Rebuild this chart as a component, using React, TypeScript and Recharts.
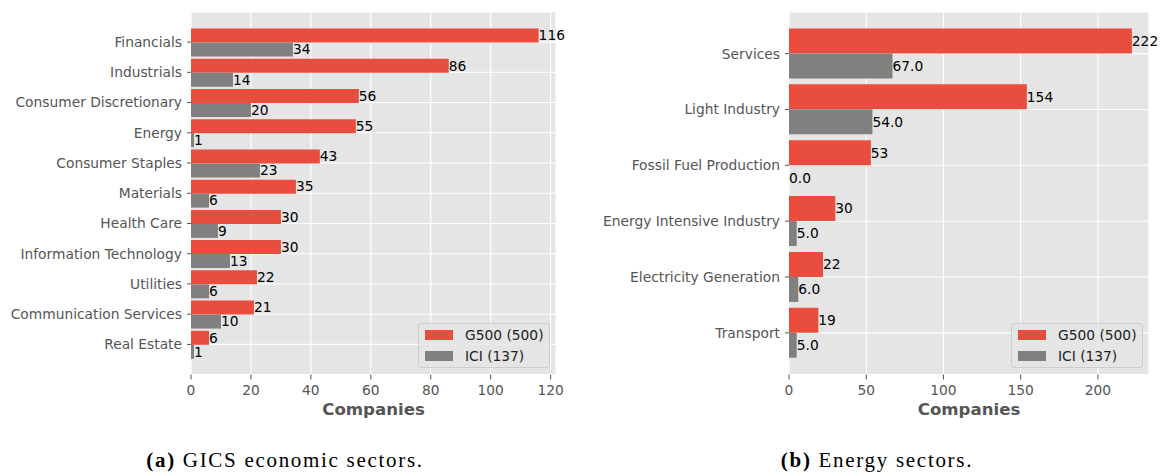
import React from 'react';
import { BarChart, Bar, XAxis, YAxis, CartesianGrid, LabelList } from 'recharts';

// GICS economic sectors
const gicsSectors = [
  'Financials',
  'Industrials',
  'Consumer Discretionary',
  'Energy',
  'Consumer Staples',
  'Materials',
  'Health Care',
  'Information Technology',
  'Utilities',
  'Communication Services',
  'Real Estate',
];
const gicsG500 = [116, 86, 56, 55, 43, 35, 30, 30, 22, 21, 6];
const gicsICI = [34, 14, 20, 1, 23, 6, 9, 13, 6, 10, 1];
const gicsTicks = [0, 20, 40, 60, 80, 100, 120];

// Energy sectors
const energySectors = [
  'Services',
  'Light Industry',
  'Fossil Fuel Production',
  'Energy Intensive Industry',
  'Electricity Generation',
  'Transport',
];
const energyG500 = [222, 154, 53, 30, 22, 19];
const energyICI = [67, 54, 0, 5, 6, 5];
const energyTicks = [0, 50, 100, 150, 200];

const seriesNames = ['G500 (500)', 'ICI (137)'];

const RED = '#E84D3D';
const GREY = '#808080';
const FONT = '"DejaVu Sans", sans-serif';
const TICK_FS = 13.8;

const CHART_H = 474;
const PLOT_TOP = 12;
const PLOT_BOTTOM = 374.5;
const X_AXIS_H = 50;
const RIGHT_MARGIN = 14;

interface PanelProps {
  left: number;
  width: number;
  yAxisWidth: number;
  sectors: string[];
  g500: number[];
  ici: number[];
  ticks: number[];
  iciDecimals: boolean;
  captionLeft: number;
  captionWidth: number;
  captionTag: string;
  captionText: string;
}

// value label drawn at the end of a bar, like matplotlib's bar_label
function BarValue(props: any) {
  const { x, y, width, height, value, decimals } = props;
  if (value === undefined || value === null) return null;
  const text = decimals ? Number(value).toFixed(1) : String(value);
  return (
    <text
      x={Number(x) + Number(width || 0)}
      y={Number(y) + Number(height) / 2}
      dy="0.35em"
      fill="#000"
      fontSize={TICK_FS}
      fontFamily={FONT}
    >
      {text}
    </text>
  );
}

function LegendBox({ right, bottom }: { right: number; bottom: number }) {
  const w = 132;
  const h = 45;
  return (
    <div
      style={{
        position: 'absolute',
        left: right - w,
        top: bottom - h,
        width: w,
        height: h,
        boxSizing: 'border-box',
        border: '1px solid #cccccc',
        borderRadius: 3,
        background: 'rgba(229,229,229,0.8)',
        padding: '1px 0 0 6px',
        fontFamily: FONT,
        fontSize: TICK_FS,
        color: '#222',
      }}
    >
      {seriesNames.map((name, i) => (
        <div key={name} style={{ display: 'flex', alignItems: 'center', height: 20.5 }}>
          <div style={{ width: 28, height: 10, background: i === 0 ? RED : GREY, marginRight: 12 }} />
          <span>{name}</span>
        </div>
      ))}
    </div>
  );
}

function Panel(p: PanelProps) {
  const rows = p.sectors.map((sector, i) => ({ sector, g500: p.g500[i], ici: p.ici[i] }));
  const maxVal = Math.max(...p.g500, ...p.ici);
  const plotRight = p.left + p.width - RIGHT_MARGIN;
  const bottomMargin = CHART_H - PLOT_BOTTOM - X_AXIS_H;
  // matplotlib-style 5% margin around the bar extent
  const plotH = PLOT_BOTTOM - PLOT_TOP;
  const band = plotH / (p.sectors.length * 1.1 - 0.11);
  const pad = (plotH - band * p.sectors.length) / 2;

  return (
    <>
      <div style={{ position: 'absolute', left: p.left, top: 0 }}>
        <BarChart
          width={p.width}
          height={CHART_H}
          data={rows}
          layout="vertical"
          margin={{ top: PLOT_TOP, right: RIGHT_MARGIN, left: 0, bottom: bottomMargin }}
          barCategoryGap="5%"
          barGap={0}
        >
          <CartesianGrid fill="#E5E5E5" stroke="#ffffff" strokeWidth={1.1} />
          <XAxis
            type="number"
            domain={[0, maxVal * 1.05]}
            ticks={p.ticks}
            allowDataOverflow
            axisLine={false}
            tickLine={{ stroke: '#555555' }}
            tickSize={5}
            tickMargin={6}
            height={X_AXIS_H}
            tick={{ fill: '#555555', fontSize: TICK_FS, fontFamily: FONT }}
            label={{
              value: 'Companies',
              position: 'insideBottom',
              offset: 10,
              fill: '#555555',
              fontSize: 16.6,
              fontWeight: 'bold',
              fontFamily: FONT,
            }}
          />
          <YAxis
            type="category"
            dataKey="sector"
            width={p.yAxisWidth}
            padding={{ top: pad, bottom: pad }}
            axisLine={false}
            tickLine={{ stroke: '#555555' }}
            tickSize={4}
            tickMargin={5}
            interval={0}
            tick={{ fill: '#555555', fontSize: TICK_FS, fontFamily: FONT }}
          />
          <Bar dataKey="g500" fill={RED} isAnimationActive={false}>
            <LabelList dataKey="g500" content={(lp: any) => <BarValue {...lp} decimals={false} />} />
          </Bar>
          {/* tiny minPointSize keeps zero-valued bars (and their labels) in the layout */}
          <Bar dataKey="ici" fill={GREY} minPointSize={0.01} isAnimationActive={false}>
            <LabelList dataKey="ici" content={(lp: any) => <BarValue {...lp} decimals={p.iciDecimals} />} />
          </Bar>
        </BarChart>
      </div>
      <LegendBox right={plotRight - 6} bottom={PLOT_BOTTOM - 6.5} />
      <div
        style={{
          position: 'absolute',
          left: p.captionLeft,
          top: 449.5,
          width: p.captionWidth,
          textAlign: 'center',
          fontFamily: '"Liberation Serif", serif',
          fontSize: 21,
          lineHeight: '21px',
          letterSpacing: 1.7,
          color: '#000',
          whiteSpace: 'nowrap',
        }}
      >
        <b>{p.captionTag}</b> {p.captionText}
      </div>
    </>
  );
}

export default function App() {
  return (
    <div style={{ position: 'absolute', left: 0, top: 0, width: 1163, height: 474, background: '#fff' }}>
      <Panel
        left={0}
        width={570}
        yAxisWidth={191}
        sectors={gicsSectors}
        g500={gicsG500}
        ici={gicsICI}
        ticks={gicsTicks}
        iciDecimals={false}
        captionLeft={0}
        captionWidth={570}
        captionTag="(a)"
        captionText="GICS economic sectors."
      />
      <Panel
        left={580}
        width={583}
        yAxisWidth={209}
        sectors={energySectors}
        g500={energyG500}
        ici={energyICI}
        ticks={energyTicks}
        iciDecimals
        captionLeft={580}
        captionWidth={594}
        captionTag="(b)"
        captionText="Energy sectors."
      />
    </div>
  );
}
